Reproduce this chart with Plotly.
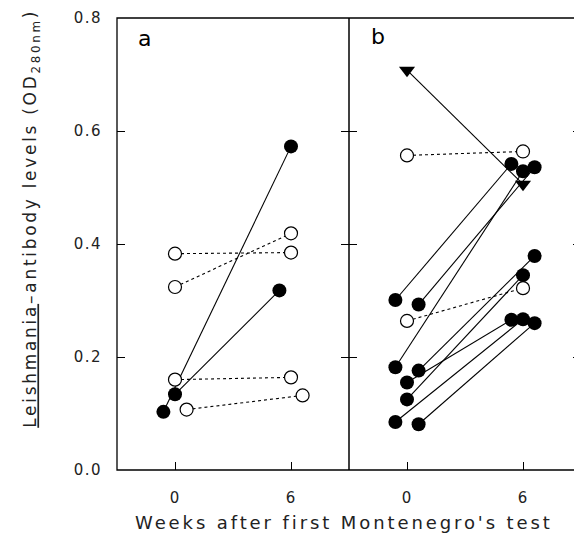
import plotly.graph_objects as go
from plotly.subplots import make_subplots

# ---- data (weeks after first Montenegro's test, jittered as drawn) ----
# Panel a
a_fill_x0 = [-0.6, 0.0]
a_fill_y0 = [0.103, 0.134]
a_fill_x6 = [6.0, 5.4]
a_fill_y6 = [0.573, 0.318]

a_open_x0 = [0.0, 0.0, 0.0, 0.6]
a_open_y0 = [0.383, 0.324, 0.160, 0.107]
a_open_x6 = [6.0, 6.0, 6.0, 6.6]
a_open_y6 = [0.385, 0.419, 0.164, 0.132]

# Panel b
b_fill_x0 = [-0.6, 0.6, -0.6, 0.6, 0.0, 0.0, -0.6, 0.6]
b_fill_y0 = [0.301, 0.293, 0.182, 0.176, 0.155, 0.125, 0.085, 0.081]
b_fill_x6 = [5.4, 6.6, 6.0, 6.6, 5.4, 6.0, 6.0, 6.6]
b_fill_y6 = [0.542, 0.536, 0.529, 0.379, 0.266, 0.345, 0.267, 0.260]

b_open_x0 = [0.0, 0.0]
b_open_y0 = [0.557, 0.264]
b_open_x6 = [6.0, 6.0]
b_open_y6 = [0.564, 0.322]

b_tri_x = [0.0, 6.0]
b_tri_y = [0.708, 0.506]

x_ticks = [0, 6]
x_ticklabels = ["0", "6"]
y_ticks = [0.0, 0.2, 0.4, 0.6, 0.8]
y_ticklabels = ["0.0", "0.2", "0.4", "0.6", "0.8"]

FONT = "DejaVu Sans"
TXT = "#222"


def spaced(s, px):
    return '<span style="letter-spacing:%spx">%s</span>' % (px, s)


fig = make_subplots(rows=1, cols=2, horizontal_spacing=0.0)

filled_marker = dict(symbol="circle", size=14, color="black", line=dict(width=0))
open_marker = dict(symbol="circle", size=13, color="white", line=dict(width=1.2, color="black"))
tri_marker = dict(symbol="triangle-down", size=14, color="black", line=dict(width=0))
solid = dict(color="black", width=1.1)
dotted = dict(color="black", width=1.1, dash="dot")


def add_pairs(x0, y0, x6, y6, marker, line, col):
    for i in range(len(x0)):
        fig.add_trace(go.Scatter(x=[x0[i], x6[i]], y=[y0[i], y6[i]], mode="lines+markers",
                                 marker=marker, line=line, showlegend=False,
                                 hoverinfo="skip"), row=1, col=col)


add_pairs(a_fill_x0, a_fill_y0, a_fill_x6, a_fill_y6, filled_marker, solid, 1)
add_pairs(a_open_x0, a_open_y0, a_open_x6, a_open_y6, open_marker, dotted, 1)

add_pairs(b_fill_x0, b_fill_y0, b_fill_x6, b_fill_y6, filled_marker, solid, 2)
fig.add_trace(go.Scatter(x=b_tri_x, y=b_tri_y, mode="lines+markers", marker=tri_marker,
                         line=solid, showlegend=False, hoverinfo="skip"), row=1, col=2)
add_pairs(b_open_x0, b_open_y0, b_open_x6, b_open_y6, open_marker, dotted, 2)

fig.update_xaxes(range=[-3, 9], tickmode="array", tickvals=x_ticks,
                 ticktext=[spaced(t, 1) for t in x_ticklabels],
                 ticks="inside", ticklen=8, tickwidth=1.2, tickcolor="black",
                 showline=False, mirror=False,
                 showgrid=False, zeroline=False, ticklabelstandoff=17,
                 tickfont=dict(family=FONT, size=15, color=TXT))

fig.update_yaxes(range=[0, 0.8003], tickmode="array", tickvals=y_ticks,
                 ticktext=[spaced(t, 1.5) for t in y_ticklabels],
                 ticks="inside", ticklen=8, tickwidth=1.2, tickcolor="black",
                 showline=False, mirror="ticks",
                 showgrid=False, zeroline=False, ticklabelstandoff=14,
                 ticklabeloverflow="allow",
                 tickfont=dict(family=FONT, size=15, color=TXT))
fig.update_yaxes(showticklabels=False, row=1, col=2)

# frame and panel divider
fig.add_shape(type="rect", xref="paper", yref="paper", x0=0, x1=1, y0=0, y1=1,
              line=dict(color="black", width=1.3), layer="above")
fig.add_shape(type="line", xref="paper", yref="paper", x0=0.5, x1=0.5, y0=0, y1=1,
              line=dict(color="black", width=1.5), layer="above")

fig.add_annotation(text="a", xref="x domain", yref="y domain", x=0.12, y=0.955,
                   showarrow=False, font=dict(family=FONT, size=22, color="black"),
                   xanchor="center", yanchor="middle")
fig.add_annotation(text="b", xref="x2 domain", yref="y2 domain", x=0.125, y=0.96,
                   showarrow=False, font=dict(family=FONT, size=22, color="black"),
                   xanchor="center", yanchor="middle")

fig.add_annotation(text=spaced("Weeks after first Montenegro's test", 2.9),
                   xref="paper", yref="paper",
                   x=0.49, y=-0.117, showarrow=False, xanchor="center", yanchor="middle",
                   font=dict(family=FONT, size=18, color=TXT))
fig.add_annotation(text=spaced("<u>Leishmania</u>\u2013antibody levels (OD<sub>280nm</sub>)", 2.7),
                   xref="paper", yref="paper", x=-0.183, y=0.556, textangle=-90,
                   showarrow=False, xanchor="center", yanchor="middle",
                   font=dict(family=FONT, size=17, color=TXT))

# page body has an 8px margin: size figure so the plot lands where the reference has it
fig.update_layout(width=574, height=531, margin=dict(l=109, r=1, t=8, b=69),
                  plot_bgcolor="white", paper_bgcolor="white",
                  font=dict(family=FONT, color="black"))

fig.write_html("out.html")
